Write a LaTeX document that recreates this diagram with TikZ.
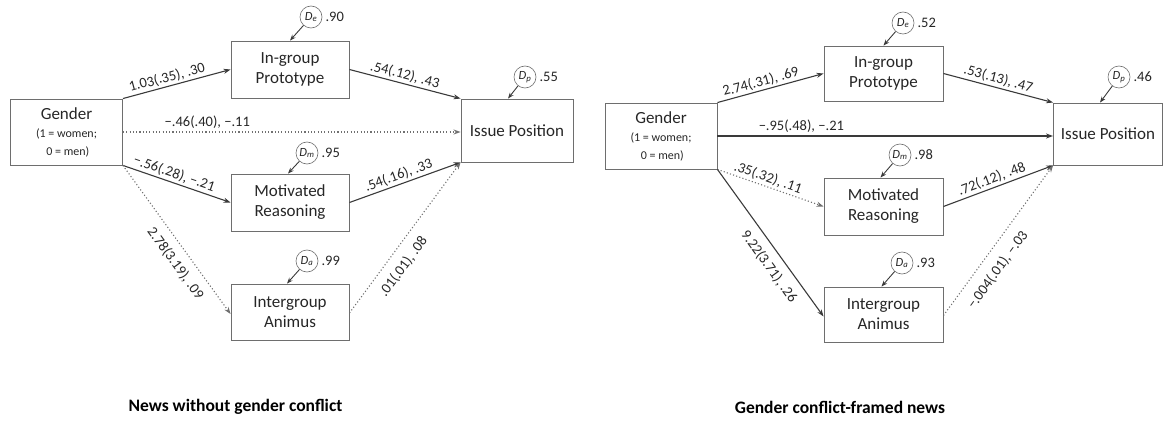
\documentclass[tikz,border=0pt]{standalone}
\usepackage{fontspec}
\setmainfont{Carlito}
\usetikzlibrary{arrows.meta,calc}
\definecolor{boxgray}{HTML}{6E6E6E}
\definecolor{linegray}{HTML}{3A3A3A}
\definecolor{dotgray}{HTML}{707070}
\definecolor{txt}{HTML}{262626}
\newcommand{\gsmall}[1]{{\fontsize{12}{13}\selectfont #1}}
\newcommand{\dlab}[1]{D\textsubscript{#1}}
\begin{document}
\begin{tikzpicture}[x=1pt,y=-1pt,
  box/.style={draw=boxgray, line width=0.9pt, align=center, inner sep=0pt,
    font=\fontsize{17}{20}\selectfont, text=txt},
  dist/.style={circle, draw=boxgray, line width=0.6pt, fill=white,
    minimum size=22pt, inner sep=0pt, text=txt,
    font=\fontsize{12.5}{12.5}\selectfont\itshape},
  val/.style={anchor=west, inner sep=0pt, text=txt, font=\fontsize{14.5}{14.5}\selectfont},
  lab/.style={sloped, inner sep=2pt, text=txt, font=\fontsize{14.5}{14.5}\selectfont},
  solidpath/.style={draw=linegray, line width=1.1pt,
    -{Stealth[length=7pt,width=5pt]}},
  dotpath/.style={draw=dotgray, line width=1.1pt, dash pattern=on 1.1pt off 2.2pt,
    -{Stealth[length=7pt,width=5pt]}},
  darr/.style={draw=linegray, line width=0.9pt,
    -{Stealth[length=6pt,width=4.5pt]}},
  title/.style={font=\fontsize{17.5}{19}\selectfont\bfseries, text=black}
]
\useasboundingbox (0,0) rectangle (1164,425);

% ---------- left model ----------
\node[box, minimum width=112pt, minimum height=66pt] (gL) at (66.5,132)
  {Gender\\[-2pt]\gsmall{(1 = women;}\\[-2pt]\gsmall{\ 0 = men)}};
\node[box, minimum width=118pt, minimum height=57pt] (inL) at (290,69.5)
  {In-group\\Prototype};
\node[box, minimum width=112pt, minimum height=63pt] (isL) at (517,130.5)
  {Issue Position};
\node[box, minimum width=118pt, minimum height=57pt] (mrL) at (290,202.5)
  {Motivated\\Reasoning};
\node[box, minimum width=118pt, minimum height=56pt] (iaL) at (290,312)
  {Intergroup\\Animus};

\node[dist] (deL) at (311,17) {\dlab{e}};
\node[dist] (dpL) at (525,77) {\dlab{p}};
\node[dist] (dmL) at (307,153) {\dlab{m}};
\node[dist] (daL) at (307,261) {\dlab{a}};
\node[val] (veL) at ([xshift=3pt]deL.east) {.90};
\node[val] (vpL) at ([xshift=3pt]dpL.east) {.55};
\node[val] (vmL) at ([xshift=3pt]dmL.east) {.95};
\node[val] (vaL) at ([xshift=3pt]daL.east) {.99};

\draw[darr] (deL) -- (inL.north);
\draw[darr] (dpL) -- ([xshift=-9pt]isL.north);
\draw[darr] (dmL) -- ([xshift=-2pt]mrL.north);
\draw[darr] (daL) -- ([xshift=-3pt]iaL.north);

\draw[solidpath] (gL.north east) -- node[lab, above, pos=0.43] {1.03(.35), .30} (inL.west);
\draw[dotpath] (gL.east) -- node[lab, above=1pt, pos=0.25] {−.46(.40), −.11} (gL.east -| isL.west);
\draw[solidpath] (gL.south east) -- node[lab, above, pos=0.45] {−.56(.28), −.21} (mrL.west);
\draw[dotpath] (gL.south east) -- node[lab, below=6pt, pos=0.6] {2.78(3.19), .09} ([yshift=-2pt]iaL.west);
\draw[solidpath] (inL.east) -- node[lab, above, pos=0.48] {.54(.12), .43} (isL.north west);
\draw[solidpath] (mrL.east) -- node[lab, above, pos=0.47] {.54(.16), .33} (isL.south west);
\draw[dotpath] ([yshift=-1pt]iaL.east) -- node[lab, below=7pt, pos=0.37] {.01(.01), .08} (isL.south west);

% ---------- right model ----------
\node[box, minimum width=112pt, minimum height=66pt] (gR) at (661,136)
  {Gender\\[-2pt]\gsmall{(1 = women;}\\[-2pt]\gsmall{\ 0 = men)}};
\node[box, minimum width=119pt, minimum height=55pt] (inR) at (883.5,73.5)
  {In-group\\Prototype};
\node[box, minimum width=109pt, minimum height=62pt] (isR) at (1108,134)
  {Issue Position};
\node[box, minimum width=119pt, minimum height=57pt] (mrR) at (883.5,206.5)
  {Motivated\\Reasoning};
\node[box, minimum width=119pt, minimum height=55pt] (iaR) at (883.5,314.5)
  {Intergroup\\Animus};

\node[dist] (deR) at (903,23) {\dlab{e}};
\node[dist] (dpR) at (1119,77) {\dlab{p}};
\node[dist] (dmR) at (900,155) {\dlab{m}};
\node[dist] (daR) at (902,263) {\dlab{a}};
\node[val] (veR) at ([xshift=3pt]deR.east) {.52};
\node[val] (vpR) at ([xshift=3pt]dpR.east) {.46};
\node[val] (vmR) at ([xshift=3pt]dmR.east) {.98};
\node[val] (vaR) at ([xshift=3pt]daR.east) {.93};

\draw[darr] (deR) -- (inR.north);
\draw[darr] (dpR) -- ([xshift=-8pt]isR.north);
\draw[darr] (dmR) -- ([xshift=-3pt]mrR.north);
\draw[darr] (daR) -- ([xshift=-2pt]iaR.north);

\draw[solidpath] (gR.north east) -- node[lab, above, pos=0.43] {2.74(.31), .69} (inR.west);
\draw[solidpath] (gR.east) -- node[lab, above=1pt, pos=0.25] {−.95(.48), −.21} (gR.east -| isR.west);
\draw[dotpath] (gR.south east) -- node[lab, above, pos=0.45] {.35(.32), .11} (mrR.west);
\draw[solidpath] (gR.south east) -- node[lab, below=6pt, pos=0.6] {9.22(3.71), .26} ([yshift=-2pt]iaR.west);
\draw[solidpath] (inR.east) -- node[lab, above, pos=0.48] {.53(.13), .47} (isR.north west);
\draw[solidpath] (mrR.east) -- node[lab, above, pos=0.47] {.72(.12), .48} (isR.south west);
\draw[dotpath] ([yshift=-1pt]iaR.east) -- node[lab, below=8pt, pos=0.37] {−.004(.01), −.03} (isR.south west);

% ---------- panel titles ----------
\node[title] (tL) at (235.5,407) {News without gender conflict};
\node[title] (tR) at (840,407) {Gender conflict-framed news};
\end{tikzpicture}
\end{document}
